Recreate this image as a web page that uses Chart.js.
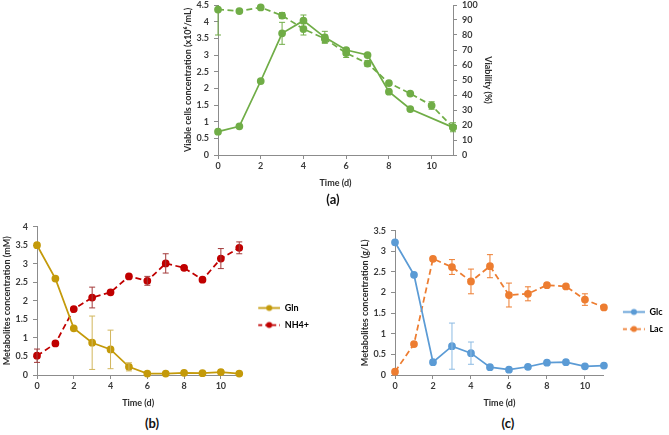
<!DOCTYPE html>
<html>
<head>
<meta charset="utf-8">
<script src="https://cdn.jsdelivr.net/npm/chart.js@4.4.0/dist/chart.umd.min.js"></script>
<style>
  html, body { margin: 0; padding: 0; background: #fff; }
  body { width: 669px; height: 435px; position: relative; overflow: hidden; font-family: Lato, sans-serif; }
  canvas { position: absolute; }
  .tag { position: absolute; font: bold 13px Lato, sans-serif; color: #111; transform: translate(-50%, -50%); }
</style>
</head>
<body>
<canvas id="chartA" width="318" height="192" style="left:179px;top:0px"></canvas>
<canvas id="chartB" width="299" height="191" style="left:0px;top:221px"></canvas>
<canvas id="chartC" width="308" height="186" style="left:356px;top:226px"></canvas>
<div class="tag" style="left:333px;top:199px">(a)</div>
<div class="tag" style="left:152px;top:423px">(b)</div>
<div class="tag" style="left:508px;top:423px">(c)</div>

<script>
// days of culture
const days = [0, 1, 2, 3, 4, 5, 6, 7, 8, 9, 10, 11];

// (a) viable cells (x10^6/mL) and viability (%)
const cells     = [0.70, 0.86, 2.22, 3.65, 4.03, 3.53, 3.15, 3.00, 1.90, 1.38, null, 0.83];
const cellsErr  = [0, 0, 0, 0.33, 0.17, 0.18, 0.05, 0, 0, 0, 0, 0];
const viability    = [97, 96, 98.4, 93, 84, 77.5, 68, 61, 48, 41, 33, 18.5];
const viabilityErr = [17, 0, 0, 2, 4, 2.5, 3, 2, 0, 0, 2.5, 3];

// (b) glutamine and ammonium (mM)
const gln     = [3.50, 2.60, 1.26, 0.87, 0.69, 0.22, 0.04, 0.04, 0.06, 0.05, 0.08, 0.04];
const glnErr  = [0, 0, 0, 0.72, 0.52, 0.11, 0, 0, 0, 0, 0, 0];
const nh4     = [0.52, 0.85, 1.78, 2.09, 2.23, 2.66, 2.54, 3.01, 2.89, 2.57, 3.14, 3.43];
const nh4Err  = [0.18, 0, 0, 0.28, 0, 0, 0.12, 0.26, 0, 0, 0.27, 0.16];

// (c) glucose and lactate (g/L)
const glc     = [3.22, 2.43, 0.31, 0.70, 0.53, 0.19, 0.13, 0.20, 0.30, 0.31, 0.21, 0.23];
const glcErr  = [0, 0, 0, 0.56, 0.27, 0, 0, 0, 0, 0, 0, 0];
const lac     = [0.08, 0.75, 2.82, 2.62, 2.27, 2.64, 1.94, 1.97, 2.18, 2.15, 1.83, 1.64];
const lacErr  = [0, 0, 0, 0.18, 0.30, 0.28, 0.29, 0.17, 0, 0, 0.14, 0];

const AXIS = '#8c8c8c';
const TICK = '#3a3a3a';
const TITLE = '#2b2b2b';
const tickFont = { family: 'Lato', size: 9, weight: 'bold' };
const LEG_PAD = 8, LEG_BOX = 33;

const pts = vals => vals.map((v, i) => ({ x: days[i], y: v }));

// little line+marker picture for the legend
function legendImg(color, dashed) {
  const c = document.createElement('canvas');
  c.width = LEG_BOX; c.height = 9;
  const g = c.getContext('2d');
  g.strokeStyle = color; g.lineWidth = 1.75;
  if (dashed) g.setLineDash([4, 3]);
  g.beginPath(); g.moveTo(11, 4.5); g.lineTo(LEG_BOX, 4.5); g.stroke();
  g.fillStyle = color;
  g.beginPath(); g.arc(22, 4.5, 3, 0, Math.PI * 2); g.fill();
  return c;
}

// width chart.js gives a vertical legend with these labels
function legendWidth(labels) {
  const g = document.createElement('canvas').getContext('2d');
  g.font = 'bold 9px Lato';
  const w = Math.max(...labels.map(t => g.measureText(t).width));
  return LEG_PAD + LEG_BOX + 4.5 + w + 10;
}

const errorBars = {
  id: 'errorBars',
  afterDatasetsDraw(chart) {
    const ctx = chart.ctx, a = chart.chartArea;
    ctx.save();
    ctx.beginPath(); ctx.rect(a.left - 5, a.top, a.width + 10, a.height); ctx.clip();
    chart.data.datasets.forEach(ds => {
      if (!ds.errors) return;
      const xs = chart.scales.x, ys = chart.scales[ds.yAxisID || 'y'];
      ctx.strokeStyle = ds.errorColor || ds.borderColor;
      ctx.lineWidth = 1;
      ctx.setLineDash([]);
      ds.data.forEach((p, j) => {
        const e = ds.errors[j];
        if (!e || p.y == null) return;
        const px = xs.getPixelForValue(p.x);
        const t = ys.getPixelForValue(p.y + e), b = ys.getPixelForValue(p.y - e);
        ctx.beginPath();
        ctx.moveTo(px, t); ctx.lineTo(px, b);
        ctx.moveTo(px - 3, t); ctx.lineTo(px + 3, t);
        ctx.moveTo(px - 3, b); ctx.lineTo(px + 3, b);
        ctx.stroke();
      });
    });
    ctx.restore();
  }
};

function xScale() {
  return {
    type: 'linear', min: 0, max: 11,
    ticks: { stepSize: 2, includeBounds: false, color: TICK, font: tickFont, padding: 2, maxRotation: 0 },
    afterBuildTicks: s => { s.ticks = s.ticks.filter(t => t.value % 2 === 0 && t.value <= 10); },
    grid: { drawOnChartArea: false, tickLength: 4, color: AXIS },
    border: { color: AXIS },
    title: { display: true, text: 'Time (d)', color: TITLE, font: tickFont, padding: { top: 0, bottom: 4 } },
    afterFit: s => { s.height = 37; }
  };
}

function yScale(pos, max, step, title, width, titlePad, topPad) {
  return {
    position: pos, min: 0, max: max,
    ticks: {
      stepSize: step, color: TICK, font: tickFont, padding: 5,
      callback: v => String(Math.round(v * 10) / 10)
    },
    grid: { drawOnChartArea: false, tickLength: 4, color: AXIS },
    border: { color: AXIS },
    title: { display: true, text: title, color: TITLE, font: tickFont, padding: titlePad },
    afterFit: s => { s.width = width; s.paddingTop = topPad; s.paddingBottom = 0; }
  };
}

function line(label, vals, errs, color, errColor, dashed, yAxisID) {
  return {
    label: label, data: pts(vals), errors: errs, errorColor: errColor,
    yAxisID: yAxisID || 'y',
    borderColor: color, backgroundColor: color,
    pointBackgroundColor: color, pointBorderColor: color,
    borderWidth: 1.75, pointRadius: 3, pointHoverRadius: 3,
    borderDash: dashed ? [6, 3.5] : [],
    legendImg: legendImg(color, dashed),
    spanGaps: true, tension: 0, clip: 8
  };
}

function legendOpts() {
  return {
    position: 'right',
    labels: {
      usePointStyle: true, pointStyleWidth: LEG_BOX, padding: LEG_PAD, font: tickFont, color: TICK,
      generateLabels: chart => chart.data.datasets.map((ds, i) => ({
        text: ds.label, pointStyle: ds.legendImg, datasetIndex: i,
        fillStyle: ds.borderColor, strokeStyle: ds.borderColor, lineWidth: 0, hidden: false
      }))
    }
  };
}

const GREEN = '#70AD47';
new Chart(document.getElementById('chartA'), {
  type: 'line',
  data: {
    datasets: [
      line('Viability', viability, viabilityErr, GREEN, GREEN, true, 'y2'),
      line('Viable cells', cells, cellsErr, GREEN, GREEN, false, 'y')
    ]
  },
  options: {
    responsive: false, animation: false, events: [],
    layout: { padding: 0 },
    scales: {
      x: xScale(),
      y: yScale('left', 4.5, 0.5, 'Viable cells concentration (x10\u2076/mL)', 39, 4, 5),
      y2: yScale('right', 100, 10, 'Viability (%)', 44, 4, 5)
    },
    plugins: { legend: { display: false }, tooltip: { enabled: false } }
  },
  plugins: [errorBars]
});

// plot area of (b) ends at x=239, of (c) at x=604; the legend sits right of it
const canvasB = document.getElementById('chartB');
canvasB.width = Math.round(239 + legendWidth(['Gln', 'NH4+']));
new Chart(canvasB, {
  type: 'line',
  data: {
    datasets: [
      line('Gln', gln, glnErr, '#C49A0A', '#D2B65C', false),
      line('NH4+', nh4, nh4Err, '#C00000', '#A33A3A', true)
    ]
  },
  options: {
    responsive: false, animation: false, events: [],
    layout: { padding: 0 },
    scales: {
      x: xScale(),
      y: yScale('left', 4, 0.5, 'Metabolites concentration (mM)', 37, 2, 5.7)
    },
    plugins: { legend: legendOpts(), tooltip: { enabled: false } }
  },
  plugins: [errorBars]
});

const canvasC = document.getElementById('chartC');
canvasC.width = Math.round(604 - 356 + legendWidth(['Glc', 'Lac']));
new Chart(canvasC, {
  type: 'line',
  data: {
    datasets: [
      line('Glc', glc, glcErr, '#5B9BD5', '#8DBBE3', false),
      line('Lac', lac, lacErr, '#ED7D31', '#ED7D31', true)
    ]
  },
  options: {
    responsive: false, animation: false, events: [],
    layout: { padding: { top: 3 } },
    scales: {
      x: xScale(),
      y: yScale('left', 3.5, 0.5, 'Metabolites concentration (g/L)', 39, 4, 2)
    },
    plugins: { legend: legendOpts(), tooltip: { enabled: false } }
  },
  plugins: [errorBars]
});
</script>
</body>
</html>
